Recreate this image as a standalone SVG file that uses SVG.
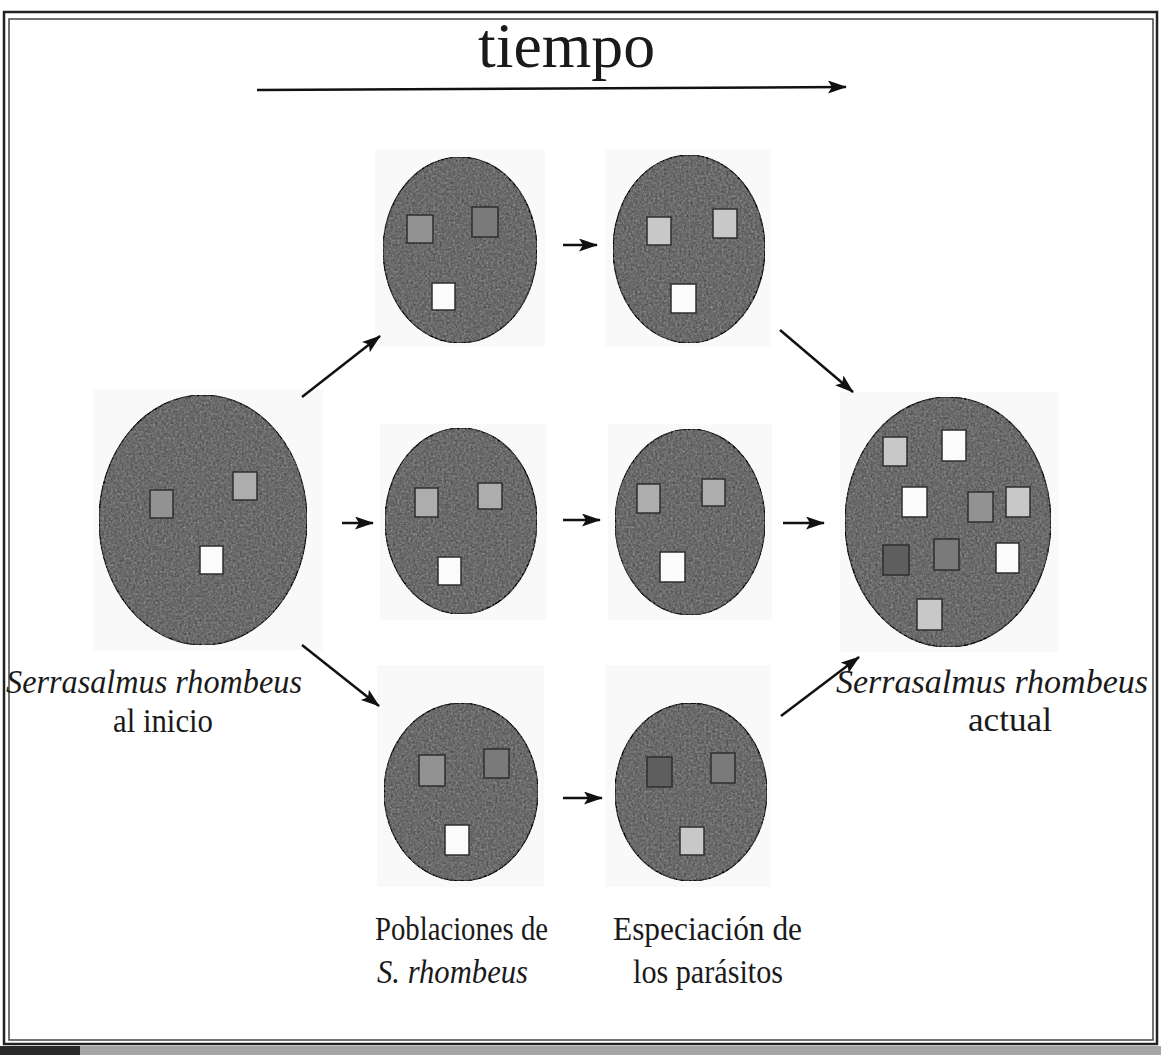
<svg xmlns="http://www.w3.org/2000/svg" width="1161" height="1055" viewBox="0 0 1161 1055">
<style>
.tile{fill:#f9f9f9;stroke:none}
.dish{fill:#6e6e6e;stroke:#3a3a3a;stroke-width:1.5;filter:url(#grain)}
.sq{stroke:#2e2e2e;stroke-width:1.5}
.w{fill:#fbfbfb}
.l1{fill:#c8c8c8}
.l2{fill:#adadad}
.m{fill:#929292}
.d{fill:#7a7a7a}
.dd{fill:#5e5e5e}
.lab{font-family:"Liberation Serif","Times New Roman",serif;font-size:34px;fill:#1a1a1a}
.it{font-style:italic}
.con{stroke:#111;stroke-width:2.5;fill:none;marker-end:url(#ah)}
</style>
<defs>
<filter id="grain" x="0" y="0" width="1" height="1">
<feTurbulence type="fractalNoise" baseFrequency="0.45" numOctaves="2" seed="7" result="t"/>
<feColorMatrix in="t" type="saturate" values="0" result="g"/>
<feComposite in="SourceGraphic" in2="g" operator="arithmetic" k1="0" k2="1" k3="0.4" k4="-0.11" result="c"/>
<feComposite in="c" in2="SourceAlpha" operator="in"/>
</filter>
<marker id="ah" markerUnits="userSpaceOnUse" markerWidth="20" markerHeight="14" refX="18" refY="6.5" orient="auto">
<path d="M0,0 L19,6.5 L0,13 L4,6.5 z" fill="#111"/>
</marker>
</defs>
<rect width="1161" height="1055" fill="#ffffff"/>
<g id="frame">
<rect x="0" y="1046" width="80" height="9" fill="#2a2a2a"/>
<rect x="80" y="1046" width="1081" height="9" fill="#a5a5a5"/>
<rect x="4" y="12" width="1153" height="1032" fill="none" stroke="#222" stroke-width="2.5"/>
<rect x="9" y="19" width="1144" height="1021" fill="none" stroke="#444" stroke-width="1.5"/>
</g>
<g id="title">
<text class="lab" x="478" y="67" style="font-size:64px" textLength="177" lengthAdjust="spacingAndGlyphs">tiempo</text>
</g>
<g id="node-inicio">
<rect class="tile" x="93" y="390" width="230" height="260"/>
<ellipse class="dish" cx="203" cy="520" rx="104" ry="125"/>
<rect class="sq m" x="150" y="490" width="23" height="28"/>
<rect class="sq l2" x="233" y="472" width="24" height="28"/>
<rect class="sq w" x="200" y="546" width="23" height="28"/>
</g>
<g id="node-top1">
<rect class="tile" x="375" y="150" width="170" height="196"/>
<ellipse class="dish" cx="460" cy="250" rx="77" ry="93"/>
<rect class="sq m" x="407" y="215" width="26" height="28"/>
<rect class="sq d" x="472" y="207" width="26" height="30"/>
<rect class="sq w" x="432" y="283" width="23" height="27"/>
</g>
<g id="node-top2">
<rect class="tile" x="605" y="150" width="166" height="196"/>
<ellipse class="dish" cx="689" cy="249" rx="76" ry="94"/>
<rect class="sq l1" x="647" y="217" width="24" height="28"/>
<rect class="sq l1" x="713" y="209" width="24" height="29"/>
<rect class="sq w" x="671" y="284" width="25" height="29"/>
</g>
<g id="node-mid1">
<rect class="tile" x="380" y="424" width="166" height="196"/>
<ellipse class="dish" cx="461" cy="521" rx="76" ry="93"/>
<rect class="sq l2" x="415" y="488" width="23" height="29"/>
<rect class="sq l2" x="478" y="483" width="24" height="26"/>
<rect class="sq w" x="438" y="557" width="23" height="28"/>
</g>
<g id="node-mid2">
<rect class="tile" x="608" y="424" width="164" height="196"/>
<ellipse class="dish" cx="690" cy="522" rx="75" ry="93"/>
<rect class="sq l2" x="637" y="484" width="23" height="29"/>
<rect class="sq l2" x="702" y="479" width="23" height="27"/>
<rect class="sq w" x="660" y="552" width="25" height="30"/>
</g>
<g id="node-bot1">
<rect class="tile" x="377" y="665" width="167" height="222"/>
<ellipse class="dish" cx="461" cy="792" rx="77" ry="89"/>
<rect class="sq m" x="419" y="755" width="26" height="31"/>
<rect class="sq d" x="484" y="749" width="25" height="29"/>
<rect class="sq w" x="445" y="825" width="24" height="30"/>
</g>
<g id="node-bot2">
<rect class="tile" x="605" y="665" width="166" height="222"/>
<ellipse class="dish" cx="691" cy="792" rx="76" ry="89"/>
<rect class="sq dd" x="647" y="757" width="25" height="30"/>
<rect class="sq d" x="711" y="753" width="24" height="30"/>
<rect class="sq l1" x="680" y="827" width="24" height="28"/>
</g>
<g id="node-actual">
<rect class="tile" x="840" y="392" width="218" height="260"/>
<ellipse class="dish" cx="948" cy="522" rx="103" ry="125"/>
<rect class="sq l1" x="883" y="437" width="24" height="29"/>
<rect class="sq w" x="942" y="430" width="24" height="31"/>
<rect class="sq w" x="902" y="487" width="25" height="30"/>
<rect class="sq m" x="968" y="492" width="25" height="30"/>
<rect class="sq l1" x="1006" y="487" width="24" height="30"/>
<rect class="sq dd" x="883" y="545" width="26" height="30"/>
<rect class="sq d" x="934" y="539" width="25" height="31"/>
<rect class="sq w" x="996" y="543" width="23" height="30"/>
<rect class="sq l1" x="917" y="599" width="25" height="31"/>
</g>
<g id="labels">
<text class="lab it" x="6" y="693" textLength="296" lengthAdjust="spacingAndGlyphs">Serrasalmus rhombeus</text>
<text class="lab" x="113" y="732" textLength="100" lengthAdjust="spacingAndGlyphs">al inicio</text>
<text class="lab it" x="836" y="693" textLength="312" lengthAdjust="spacingAndGlyphs">Serrasalmus rhombeus</text>
<text class="lab" x="968" y="731" textLength="84" lengthAdjust="spacingAndGlyphs">actual</text>
<text class="lab" x="375" y="940" textLength="173" lengthAdjust="spacingAndGlyphs">Poblaciones de</text>
<text class="lab it" x="377" y="983" textLength="151" lengthAdjust="spacingAndGlyphs">S. rhombeus</text>
<text class="lab" x="613" y="940" textLength="189" lengthAdjust="spacingAndGlyphs">Especiación de</text>
<text class="lab" x="633" y="983" textLength="150" lengthAdjust="spacingAndGlyphs">los parásitos</text>
</g>
<g id="connectors">
<line class="con" x1="257" y1="90" x2="846" y2="87"/>
<line class="con" x1="302" y1="397" x2="380" y2="336"/>
<line class="con" x1="342" y1="523" x2="373" y2="523"/>
<line class="con" x1="302" y1="645" x2="379" y2="706"/>
<line class="con" x1="563" y1="245" x2="597" y2="245"/>
<line class="con" x1="563" y1="520" x2="600" y2="520"/>
<line class="con" x1="563" y1="798" x2="602" y2="798"/>
<line class="con" x1="780" y1="330" x2="853" y2="392"/>
<line class="con" x1="783" y1="523" x2="824" y2="523"/>
<line class="con" x1="781" y1="716" x2="859" y2="657"/>
</g>
</svg>
